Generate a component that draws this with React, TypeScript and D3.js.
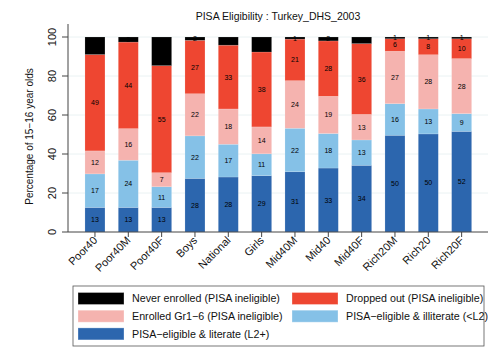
import React from "react";
import * as d3 from "d3";

const categories = ["Poor40", "Poor40M", "Poor40F", "Boys", "National", "Girls", "Mid40M", "Mid40", "Mid40F", "Rich20M", "Rich20", "Rich20F"];
const literate = [12.6, 12.6, 12.6, 27.5, 28.2, 28.9, 30.9, 32.8, 34.2, 49.6, 50.3, 51.6];
const illiterate = [17.2, 24.2, 10.6, 21.8, 16.8, 11.2, 22.3, 17.7, 13.0, 16.2, 12.8, 9.1];
const enrolled = [11.8, 16.2, 7.2, 21.6, 18.1, 13.8, 24.4, 19.1, 13.1, 26.9, 27.8, 28.2];
const dropped = [49.4, 44.4, 54.9, 27.4, 32.7, 38.4, 21.3, 28.4, 36.3, 6.4, 8.2, 10.2];
const never = [9.0, 2.6, 14.7, 1.7, 4.2, 7.7, 1.1, 2.0, 3.4, 0.9, 0.9, 0.9];
const yTicks = [0, 20, 40, 60, 80, 100];

const seriesNames = [
  "PISA\u2212eligible & literate (L2+)",
  "PISA\u2212eligible & illiterate (<L2)",
  "Enrolled Gr1\u22126 (PISA ineligible)",
  "Dropped out (PISA ineligible)",
  "Never enrolled (PISA ineligible)",
];
const seriesValues = [literate, illiterate, enrolled, dropped, never];
const colors = ["#2c66ae", "#85c1e7", "#f5b3af", "#ee4631", "#000000"];

const legendOrder = [4, 3, 2, 1, 0];

export default function App() {
  const W = 500, H = 362;
  const x = d3.scaleBand<string>().domain(categories).range([78.3, 478.3]).paddingInner(0.4).paddingOuter(0.2);
  const y = d3.scaleLinear().domain([0, 100]).range([232, 37]);
  const font = "Liberation Sans, Arial, sans-serif";

  const stackRows = categories.map((c, i) => {
    const row: any = { cat: c };
    seriesValues.forEach((s, k) => (row["s" + k] = s[i]));
    return row;
  });
  const stack = d3.stack().keys(seriesValues.map((_, k) => "s" + k))(stackRows);

  return (
    <svg width={W} height={H} style={{ position: "absolute", left: 0, top: 0, background: "#fff" }} fontFamily={font}>
      <rect x={0} y={0} width={W} height={H} fill="#fff" />
      <text x={278} y={19.5} textAnchor="middle" fontSize={10.5} fill="#111">PISA Eligibility : Turkey_DHS_2003</text>
      {yTicks.map((t) => (
        <g key={t}>
          {t > 0 && <line x1={68} x2={488} y1={y(t)} y2={y(t)} stroke="#eaf2f3" strokeWidth={1} />}
          <line x1={62} x2={68} y1={y(t)} y2={y(t)} stroke="#444" />
          <text transform={`translate(56,${y(t)}) rotate(-90)`} textAnchor="middle" fontSize={11} fill="#111">{t}</text>
        </g>
      ))}
      <text transform={`translate(33,${(y(0) + y(100)) / 2 + 2}) rotate(-90)`} textAnchor="middle" fontSize={10} fill="#111">Percentage of 15{"\u2212"}16 year olds</text>
      {stack.map((layer, k) => (
        <g key={k}>
          {layer.map((d, i) => (
            <rect key={i} x={x(categories[i])} width={x.bandwidth()} y={y(d[1])} height={y(d[0]) - y(d[1])} fill={colors[k]} stroke="#ffffff" strokeOpacity={0.25} strokeWidth={0.6} />
          ))}
          {layer.map((d, i) => (
            <text key={"t" + i} x={(x(categories[i]) as number) + x.bandwidth() / 2} y={y((d[0] + d[1]) / 2) + 2.5} textAnchor="middle" fontSize={7} fill="#000">
              {Math.round(d[1] - d[0])}
            </text>
          ))}
        </g>
      ))}
      <line x1={68} x2={68} y1={24} y2={232} stroke="#444" />
      <line x1={68} x2={488} y1={232} y2={232} stroke="#444" />
      {categories.map((c) => {
        const cx = (x(c) as number) + x.bandwidth() / 2;
        return (
          <g key={c}>
            <line x1={cx} x2={cx} y1={232} y2={237} stroke="#444" />
            <text transform={`translate(${cx + 3},${241}) rotate(-45)`} textAnchor="end" fontSize={11} fill="#111">{c}</text>
          </g>
        );
      })}
      <rect x={73} y={286} width={411} height={60} fill="#fff" stroke="#555" strokeWidth={0.8} />
      {legendOrder.map((k, j) => {
        const col = j % 2;
        const row = Math.floor(j / 2);
        const sx = col === 0 ? 78 : 292;
        const cy = 298.5 + row * 17.7;
        return (
          <g key={k}>
            <rect x={sx} y={cy - 6} width={46} height={12} fill={colors[k]} stroke="#ffffff" strokeOpacity={0.3} />
            <text x={sx + 54} y={cy + 3.7} fontSize={10.7} fill="#111">{seriesNames[k]}</text>
          </g>
        );
      })}
    </svg>
  );
}
